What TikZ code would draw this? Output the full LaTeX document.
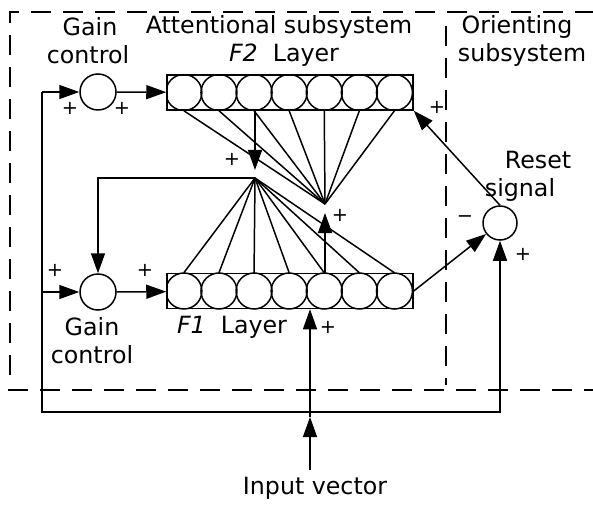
\documentclass[tikz,border=0pt]{standalone}
\usepackage{fontspec}
\setmainfont{DejaVu Sans}
\usepackage{tikz}
\usetikzlibrary{positioning,arrows.meta,calc}
\tikzset{
  arr/.style={-{Triangle[length=4mm,width=2.8mm]}},
  unit/.style={draw,circle,minimum size=7.2mm,inner sep=0pt},
  layer/.style={draw,rectangle,minimum width=49.2mm,minimum height=7mm,inner sep=0pt},
  sign/.style={font=\fontsize{11}{11}\selectfont,inner sep=0pt},
  bound/.style={dash pattern=on 4mm off 2.4mm}
}

\begin{document}
\begin{tikzpicture}[x=0.2mm,y=-0.2mm,line width=0.85pt,font=\fontsize{13.5}{15}\selectfont]
  \useasboundingbox (0,0) rectangle (593,506);
  % subsystem borders
  \draw[bound] (10,375) -- (10,12) -- (593,12);
  \draw[bound] (8,390) -- (593,390);
  \draw[bound] (446,26) -- (446,385);
  % titles
  \node (gt1) at (90,27) {Gain};
  \node (gt2) at (88,55) {control};
  \node (att) at (279,27) {Attentional subsystem};
  \node (f2t) at (284,55) {\textit{F2}\ \ Layer};
  \node (ori1) at (517,27) {Orienting};
  \node (ori2) at (522,55) {subsystem};
  \node (rs1) at (538,160) {Reset};
  \node (rs2) at (520,190) {signal};
  \node (gb1) at (92,327) {Gain};
  \node (gb2) at (92,355) {control};
  \node (f1t) at (232,327) {\textit{F1}\ \ Layer};
  \node (inp) at (315,488) {Input vector};
  % layers and gain units
  \node[layer] (f2) at (290,92.5) {};
  \node[layer] (f1) at (290,291) {};
  \begin{scope}
    \clip (f2.south west) rectangle (f2.north east);
    \foreach \k in {0,...,6} \draw ($(f2.west)+({17.6+35.1*\k},0)$) circle[radius=3.6mm];
  \end{scope}
  \begin{scope}
    \clip (f1.south west) rectangle (f1.north east);
    \foreach \k in {0,...,6} \draw ($(f1.west)+({17.6+35.1*\k},0)$) circle[radius=3.6mm];
  \end{scope}
  \node[unit] (gaintop) at (98,92) {};
  \node[unit] (gainbot) at (98,292) {};
  \node[unit,minimum size=6.8mm] (reset) at (500,223) {};
  \coordinate (ja) at (255,178);
  \coordinate (jb) at (325,204);
  \coordinate (lt) at (42,92);
  \coordinate (lb) at (42,412);
  \coordinate (incross) at (310,417);
  % fan connections
  \foreach \k in {0,...,6} {
    \draw (ja) -- ($(f1.north west)+({17.6+35.1*\k},0)$);
    \draw ($(f2.south west)+({17.6+35.1*\k},0)$) -- (jb);
  }
  \draw[arr,shorten >=1.6mm] (f2.south west -| ja) -- (ja);
  \draw[arr,shorten >=1.8mm] (f1.north west -| jb) -- (jb);
  \draw[arr] (ja) -| (gainbot);
  % gain control inputs
  \draw[arr] (lt) -- (gaintop);
  \draw[arr] (lt |- gainbot) -- (gainbot);
  \draw[arr] (lt) -- (lb) -| (reset);
  \draw[arr] (gaintop) -- (f2);
  \draw[arr] (gainbot) -- (f1);
  % reset path
  \draw[arr] (f1.east) -- (reset);
  \draw[arr] (reset.north) -- (f2.south east);
  % input vector
  \draw[arr] (inp.north -| incross) -- (incross);
  \draw[arr] (incross) -- (incross |- f1.south);
  % signs
  \node[sign] (p1) at (70,108) {+};
  \node[sign] (p2) at (122,108) {+};
  \node[sign] (p3) at (55,270) {+};
  \node[sign] (p4) at (145,270) {+};
  \node[sign] (p5) at (232,159) {+};
  \node[sign] (p6) at (340,215) {+};
  \node[sign] (p7) at (328,327) {+};
  \node[sign] (p8) at (437,107) {+};
  \node[sign] (m1) at (465,219) {−};
  \node[sign] (p9) at (523,254) {+};
\end{tikzpicture}
\end{document}
